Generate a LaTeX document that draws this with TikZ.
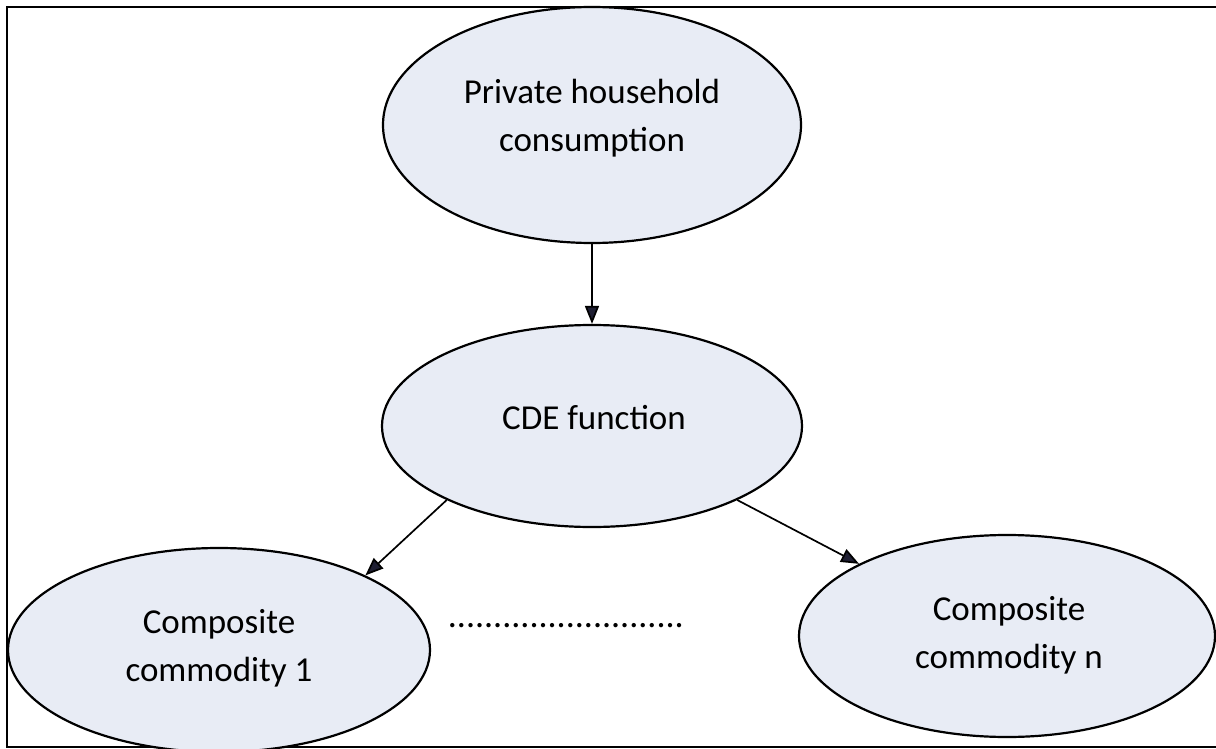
\documentclass[tikz,border=0pt]{standalone}
\usepackage{fontspec}
\setmainfont{Carlito}
\usetikzlibrary{shapes.geometric,arrows.meta}
\definecolor{bubble}{RGB}{232,236,245}
\definecolor{tipfill}{RGB}{30,30,50}
\begin{document}
\begin{tikzpicture}[x=1pt,y=-1pt,
  bubble/.style={ellipse,draw=black,line width=2.2pt,fill=bubble,inner sep=0pt},
  caption/.style={align=center,inner sep=0pt,font=\fontsize{35}{48}\selectfont},
  link/.style={line width=1.7pt,-{Triangle[length=18pt,width=14pt,fill=tipfill]}}]
\useasboundingbox (0,0) rectangle (1216,749);
% outer frame (right side runs off the page)
\draw[line width=2.4pt] (7,7) rectangle (1230,747);
% the four ellipses
\node[bubble,minimum width=418pt,minimum height=236pt] (phc) at (592,125) {};
\node[bubble,minimum width=420pt,minimum height=202pt] (cde) at (592,426) {};
\node[bubble,minimum width=422pt,minimum height=204pt] (c1) at (219,650) {};
\node[bubble,minimum width=416pt,minimum height=202pt] (cn) at (1007,636) {};
% their texts
\node[caption] (phc-t) at (592,118) {Private household\\consumption};
\node[caption] (cde-t) at (594,418) {CDE function};
\node[caption] (c1-t) at (219,648) {Composite\\commodity 1};
\node[caption] (cn-t) at (1009,635) {Composite\\commodity n};
% ellipsis between the commodities
\node[font=\fontsize{36}{48}\selectfont,inner sep=0pt] (dots) at (566,626)
  {..........................};
% arrows
\draw[link] (phc.south) -- (cde.north);
\draw[link] (cde.207) -- (c1.27);
\draw[link] (cde.-27) -- (cn.154);
\end{tikzpicture}
\end{document}
